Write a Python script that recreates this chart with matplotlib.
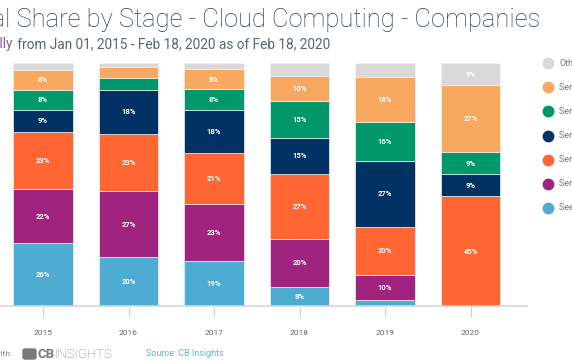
import matplotlib
matplotlib.use("Agg")
import matplotlib.pyplot as plt
import numpy as np
from matplotlib.lines import Line2D
from matplotlib.patches import FancyBboxPatch

plt.rcParams['font.family'] = ['Roboto', 'DejaVu Sans']

years = ['2015', '2016', '2017', '2018', '2019', '2020']
stages = ['Seed / Angel', 'Series A', 'Series B', 'Series C', 'Series D', 'Series E+', 'Other']
seed = [25.8, 20.0, 18.7, 7.9, 2.4, 0.0]
series_a = [22.4, 27.4, 23.3, 19.8, 10.4, 0.0]
series_b = [23.4, 23.4, 21.0, 26.8, 19.8, 45.2]
series_c = [9.1, 18.2, 17.7, 14.8, 27.1, 9.0]
series_d = [8.2, 5.0, 8.4, 15.2, 16.2, 9.2]
series_e = [8.4, 4.4, 8.3, 10.3, 18.4, 27.4]
other = [2.7, 1.6, 2.6, 5.2, 5.7, 9.2]
colors = ['#4eabd1', '#a0237f', '#ff6633', '#003263', '#00976a', '#f9a862', '#d9d9d9']

W, H = 572, 364
fig = plt.figure(figsize=(W / 100, H / 100), dpi=100)

def fx(px):
    return px / W

def fy(py):
    return 1 - py / H

ax = fig.add_axes([0, fy(306), fx(527), fy(63) - fy(306)])

series = [seed, series_a, series_b, series_c, series_d, series_e, other]
x = np.arange(len(years))
bottom = np.zeros(len(years))
for vals, col in zip(series, colors):
    vals = np.array(vals)
    ax.bar(x, vals, 0.70, bottom=bottom, color=col, edgecolor='#f2f2f2', linewidth=0.5)
    for xi, b, v in zip(x, bottom, vals):
        if v >= 6:
            ax.text(xi, b + v / 2, '%d%%' % round(v), ha='center', va='center',
                    color='white', fontsize=5.5, fontweight='bold')
    bottom += vals

ax.set_xlim(-0.503, 5.66)
ax.set_ylim(0, 100)
ax.set_yticks([])
ax.set_xticks(x)
ax.set_xticklabels(years)
ax.tick_params(axis='x', length=8, color='#d0d0d0', labelcolor='#666666', labelsize=6, pad=9)
for s in ['top', 'right', 'left']:
    ax.spines[s].set_visible(False)
ax.spines['bottom'].set_color('#d6d6d6')
ax.spines['bottom'].set_linewidth(1.2)

# title and subtitle (cropped on the left, as in the original)
fig.text(fx(540), fy(20), 'Deal Share by Stage - Cloud Computing - Companies',
         ha='right', va='center', fontsize=18.4, color='#2c3e56', fontweight='light')
sub_rest = ' from Jan 01, 2015 - Feb 18, 2020 as of Feb 18, 2020'
t_rest = fig.text(fx(330), fy(44), sub_rest, ha='right', va='center',
                  fontsize=9.8, color='#5a6572')
renderer = fig.canvas.get_renderer()
rest_w = t_rest.get_window_extent(renderer).width
fig.text(fx(330 - rest_w), fy(44), 'Annually', ha='right', va='center',
         fontsize=9.8, color='#8a55a8')

# legend on the right, cut off by the figure edge
leg_y = [208, 184, 160, 136, 111, 87, 63]
for name, col, py in zip(stages, colors, leg_y):
    fig.add_artist(Line2D([fx(548)], [fy(py)], marker='o', markersize=7.5,
                          color=col, transform=fig.transFigure))
    fig.text(fx(559), fy(py), name, ha='left', va='center', fontsize=6.5, color='#777777')

# footer
fig.text(fx(12), fy(354), 'Created with:', ha='right', va='center', fontsize=6, color='#888888')
fig.add_artist(FancyBboxPatch((fx(23), fy(359)), fx(13), fy(349) - fy(359),
                              boxstyle='round,pad=0,rounding_size=0.004',
                              color='#7a7a7a', transform=fig.transFigure))
fig.text(fx(37), fy(354), 'CB', ha='left', va='center', fontsize=9.5,
         fontweight='bold', color='#7a7a7a')
fig.text(fx(55), fy(354), 'INSIGHTS', ha='left', va='center', fontsize=9.5,
         fontweight='light', color='#7a7a7a')
fig.text(fx(146), fy(354), 'Source: CB Insights', ha='left', va='center',
         fontsize=6.5, color='#5cb6e4')

fig.savefig('out.png', dpi=100)
